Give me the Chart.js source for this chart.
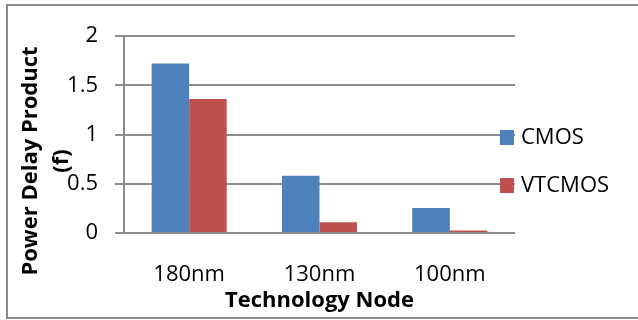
<!DOCTYPE html>
<html>
<head>
<meta charset="utf-8">
<script src="https://cdn.jsdelivr.net/npm/chart.js@4.4.0/dist/chart.umd.min.js"></script>
<style>
  html, body { margin: 0; padding: 0; background: #fff; }
  #wrap { position: relative; width: 638px; height: 320px; }
  #frame {
    position: absolute; left: 6px; top: 4px; right: 0; height: 311px;
    border-left: 2px solid #8a8a8a; border-top: 2px solid #8a8a8a; border-bottom: 2px solid #8a8a8a;
    pointer-events: none;
  }
  canvas { position: absolute; left: 0; top: 0; }
</style>
</head>
<body>
<div id="wrap">
  <canvas id="grafica" width="638" height="320"></canvas>
  <div id="frame"></div>
</div>
<script>
const categories = ['180nm', '130nm', '100nm'];
const cmosValues = [1.72, 0.58, 0.255];
const vtcmosValues = [1.36, 0.11, 0.025];
const seriesNames = ['CMOS', 'VTCMOS'];
const yTitleLines = ['Power Delay Product', '(f)'];
const xTitle = 'Technology Node';

const gridColor = '#8c8c8c';

// leyenda dibujada a mano, se solapa un poco con el area del grafico
const legendPlugin = {
  id: 'manualLegend',
  afterDraw(chart) {
    const ctx = chart.ctx;
    ctx.save();
    ctx.font = '22px "Open Sans"';
    ctx.textBaseline = 'middle';
    ctx.textAlign = 'left';
    chart.data.datasets.forEach((ds, i) => {
      const y = 138 + i * 48;
      ctx.fillStyle = ds.backgroundColor;
      ctx.fillRect(500, y - 8, 14, 15);
      ctx.fillStyle = '#000';
      ctx.fillText(ds.label, 521, y);
    });
    ctx.restore();
  }
};

// titulo del eje Y en dos lineas
const yTitlePlugin = {
  id: 'yTitle',
  afterDraw(chart) {
    const ctx = chart.ctx;
    ctx.save();
    ctx.font = 'bold 22px "Open Sans"';
    ctx.fillStyle = '#000';
    ctx.textAlign = 'center';
    ctx.textBaseline = 'alphabetic';
    const xs = [37, 68];
    yTitleLines.forEach((line, i) => {
      ctx.save();
      ctx.translate(xs[i], 161);
      ctx.rotate(-Math.PI / 2);
      ctx.fillText(line, 0, 0);
      ctx.restore();
    });
    ctx.restore();
  }
};

const ctx = document.getElementById('grafica').getContext('2d');
new Chart(ctx, {
  type: 'bar',
  data: {
    labels: categories,
    datasets: [
      { label: seriesNames[0], data: cmosValues, backgroundColor: '#4f81bd' },
      { label: seriesNames[1], data: vtcmosValues, backgroundColor: '#c0504d' }
    ]
  },
  options: {
    responsive: false,
    animation: false,
    layout: { padding: { left: 0, right: 123, top: 36, bottom: 6 } },
    datasets: { bar: { barPercentage: 1, categoryPercentage: 0.576 } },
    plugins: {
      legend: { display: false },
      tooltip: { enabled: false }
    },
    scales: {
      x: {
        afterFit: (s) => { s.height = 81; },
        grid: { display: false, drawTicks: false },
        border: { display: false },
        ticks: { color: '#000', padding: 29, font: { family: 'Open Sans', size: 22 } },
        title: {
          display: true, text: xTitle, color: '#000', padding: 0,
          font: { family: 'Open Sans', size: 22, weight: 'bold' }
        }
      },
      y: {
        min: 0, max: 2,
        afterFit: (s) => { s.width = 124; },
        grid: { color: gridColor, lineWidth: 2, tickLength: 9 },
        border: { display: true, color: gridColor, width: 2 },
        ticks: {
          stepSize: 0.5, color: '#000', padding: 17,
          font: { family: 'Open Sans', size: 22 },
          callback: (v) => String(v)
        }
      }
    }
  },
  plugins: [legendPlugin, yTitlePlugin]
});
</script>
</body>
</html>
